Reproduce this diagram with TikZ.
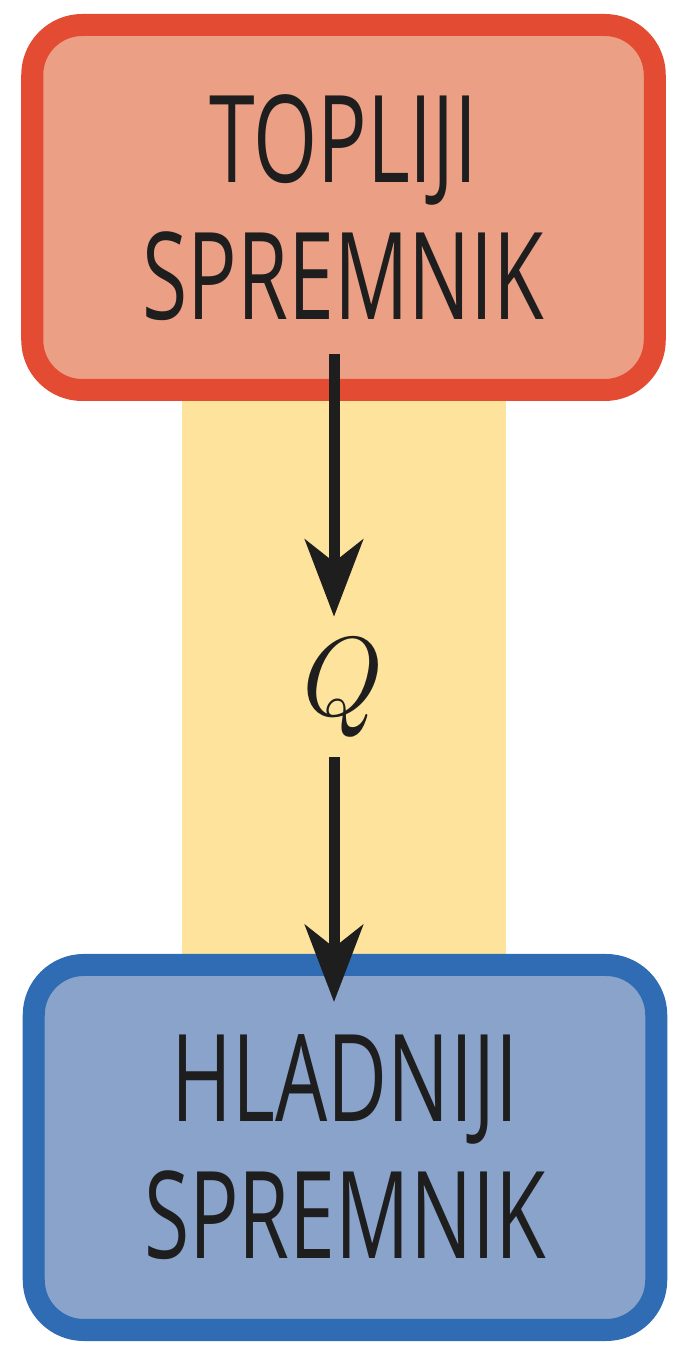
\documentclass[tikz,border=0pt]{standalone}
\usepackage{fontspec}
\newfontfamily\tankfont[FakeStretch=0.68]{Open Sans}
\usetikzlibrary{arrows.meta}
\definecolor{hotline}{HTML}{E34B33}
\definecolor{hotfill}{HTML}{EBA085}
\definecolor{coldline}{HTML}{2F6CB3}
\definecolor{coldfill}{HTML}{8AA3CB}
\definecolor{barfill}{HTML}{FDE39B}
\definecolor{ink}{HTML}{1E1E1E}

\tikzset{tank/.style={rectangle,rounded corners=1cm,line width=0.44cm,minimum width=12.45cm,minimum height=7.3cm,align=center,text=ink,font=\tankfont\fontsize{69}{78}\selectfont},
hot tank/.style={tank,draw=hotline,fill=hotfill},
cold tank/.style={tank,draw=coldline,fill=coldfill},
heat label/.style={minimum height=2.8cm,inner sep=0cm,text=ink,font=\itshape\fontsize{64}{70}\selectfont},
flow/.style={draw=ink,line width=0.22cm,-{Stealth[length=1.54cm,width=1.16cm,inset=0.45cm]}}}

\begin{document}
\begin{tikzpicture}
%   +-------------------+
%   |  TOPLIJI          |
%   |  SPREMNIK         |
%   +-------|-----------+
%        |  v  |
%        |  Q  |   <- bar
%        |  |  |
%   +-------v-----------+
%   |  HLADNIJI         |
%   |  SPREMNIK         |
%   +-------------------+

%% frame
\useasboundingbox (0,0) rectangle (14,27.12);

%% Coordinates of nodes.
\coordinate (hotc) at (6.87,22.97);
\coordinate (coldc) at (6.90,4.17);
\coordinate (qc) at (6.68,13.38);
\coordinate (q1) at (6.68,20.04);
\coordinate (q4) at (6.68,7.08);
\coordinate (bar1) at (3.64,7.90);
\coordinate (bar2) at (10.12,19.20);

%% bar
\fill [barfill] (bar1) rectangle (bar2);

%% tanks
\node [hot tank] (hot) at (hotc) {TOPLIJI\\SPREMNIK};
\node [cold tank] (cold) at (coldc) {HLADNIJI\\SPREMNIK};

%% heat label
\node [heat label] (heat) at (qc) {Q};

%% arrows
\draw [flow] (q1) -- (heat);
\draw [flow] (heat) -- (q4);

\end{tikzpicture}
\end{document}
